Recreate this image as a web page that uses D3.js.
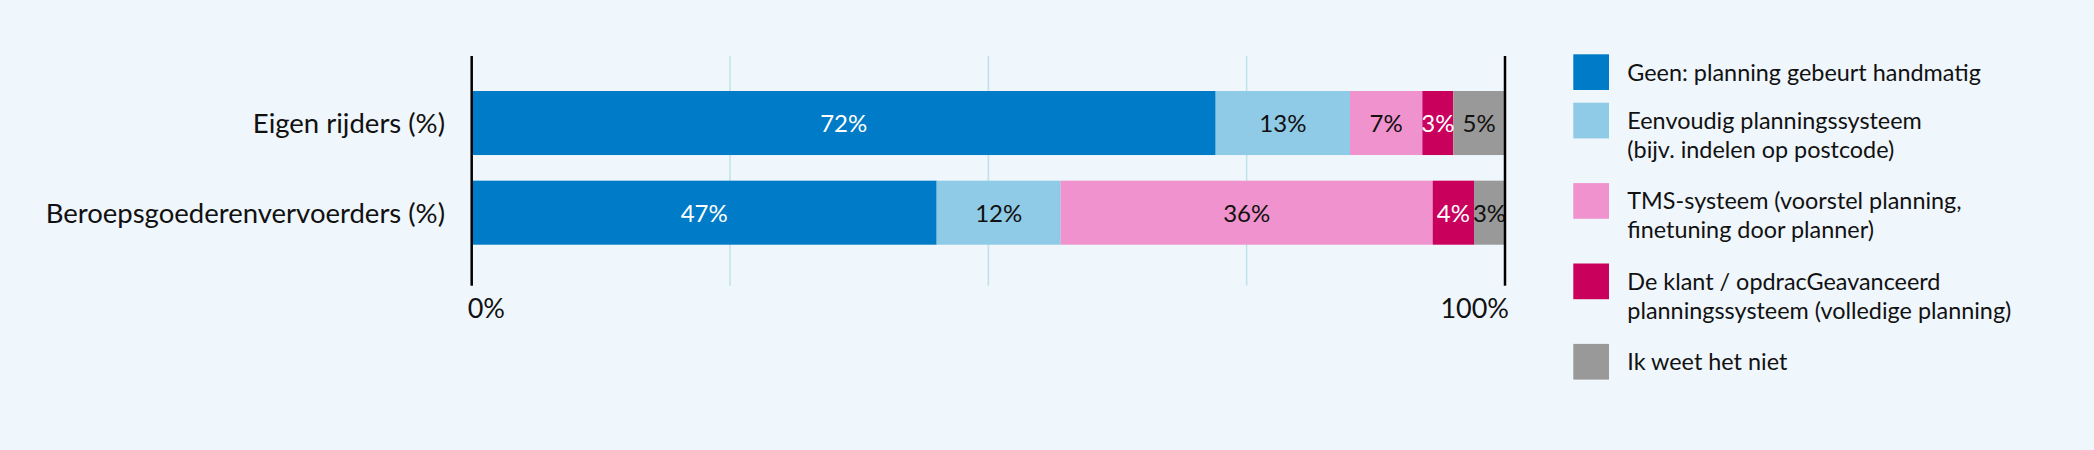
<!DOCTYPE html>
<html>
<head>
<meta charset="utf-8">
<script src="https://cdn.jsdelivr.net/npm/d3@7"></script>
<style>
  html, body { margin: 0; padding: 0; background: #eff6fc; }
  svg { display: block; font-family: Lato, 'Noto Sans', sans-serif; }
</style>
</head>
<body>
<div id="container"></div>
<script>
//### DATA ###
const categories = [ 'Eigen rijders (%)', 'Beroepsgoederenvervoerders (%)' ];
const seriesNames = [
  [ 'Geen: planning gebeurt handmatig' ],
  [ 'Eenvoudig planningssysteem', '(bijv. indelen op postcode)' ],
  [ 'TMS-systeem (voorstel planning,', 'finetuning door planner)' ],
  [ 'De klant / opdracGeavanceerd', 'planningssysteem (volledige planning)' ],
  [ 'Ik weet het niet' ]
];
//>>> Segment widths as drawn (percent of the bar):
const eigenValues = [ 72, 13, 7, 3, 5 ];
const beroepsValues = [ 45, 12, 36, 4, 3 ];
//>>> Labels as printed in the segments:
const eigenLabels = [ '72%', '13%', '7%', '3%', '5%' ];
const beroepsLabels = [ '47%', '12%', '36%', '4%', '3%' ];
const gridTicks = [ 25, 50, 75 ];
const axisTicks = [ 0, 100 ];

//### CHART ###
const colors = [ '#007bc7', '#8fcae7', '#f092cd', '#ca005d', '#999999' ];
const textColors = [ '#ffffff', '#111111', '#111111', '#ffffff', '#111111' ];

const W = 2094, H = 450;
const margin = { top: 91, left: 471.7 };
const width = 1033.3;
const plotTop = 56, plotBottom = 285.7;

const svg = d3.select( '#container' ).append( 'svg' )
  .attr( 'width', W )
  .attr( 'height', H );

svg.append( 'rect' ).attr( 'width', W ).attr( 'height', H ).attr( 'fill', '#eff6fc' );

const xScale = d3.scaleLinear().domain( [ 0, 100 ] ).range( [ margin.left, margin.left + width ] );
const yScale = d3.scaleBand()
  .domain( categories )
  .range( [ 91, 244.7 ] )
  .paddingInner( 0.286 )
  .paddingOuter( 0 );

//_____ GRID LINES _____
svg.append( 'g' ).selectAll( 'line' )
  .data( gridTicks )
  .enter().append( 'line' )
  .attr( 'x1', d => xScale( d ) )
  .attr( 'x2', d => xScale( d ) )
  .attr( 'y1', plotTop )
  .attr( 'y2', plotBottom )
  .attr( 'stroke', '#c0e2e8' )
  .attr( 'stroke-width', 1.5 );

//_____ BARS _____
const rows = [
  { cat: categories[ 0 ], values: eigenValues, labels: eigenLabels },
  { cat: categories[ 1 ], values: beroepsValues, labels: beroepsLabels }
];

rows.forEach( row => {
  let acc = 0;
  const segs = row.values.map( ( v, i ) => {
    const s = { start: acc, end: acc + v, i: i, label: row.labels[ i ] };
    acc += v;
    return s;
  } );
  const g = svg.append( 'g' );
  g.selectAll( 'rect' )
    .data( segs )
    .enter().append( 'rect' )
    .attr( 'x', d => xScale( d.start ) )
    .attr( 'y', yScale( row.cat ) )
    .attr( 'width', d => xScale( d.end ) - xScale( d.start ) )
    .attr( 'height', yScale.bandwidth() )
    .attr( 'fill', d => colors[ d.i ] );
  g.selectAll( 'text' )
    .data( segs )
    .enter().append( 'text' )
    .attr( 'x', d => ( xScale( d.start ) + xScale( d.end ) ) / 2 )
    .attr( 'y', yScale( row.cat ) + yScale.bandwidth() / 2 + 9 )
    .attr( 'text-anchor', 'middle' )
    .style( 'font-size', '24px' )
    .attr( 'fill', d => textColors[ d.i ] )
    .text( d => d.label );
} );

//_____ CATEGORY LABELS _____
svg.append( 'g' ).selectAll( 'text' )
  .data( categories )
  .enter().append( 'text' )
  .attr( 'x', 445 )
  .attr( 'y', d => yScale( d ) + yScale.bandwidth() / 2 + 10 )
  .attr( 'text-anchor', 'end' )
  .style( 'font-size', '27.5px' )
  .attr( 'fill', '#111' )
  .text( d => d );

//_____ AXIS LINES AND LABELS _____
svg.append( 'g' ).selectAll( 'line' )
  .data( axisTicks )
  .enter().append( 'line' )
  .attr( 'x1', d => xScale( d ) )
  .attr( 'x2', d => xScale( d ) )
  .attr( 'y1', plotTop )
  .attr( 'y2', plotBottom )
  .attr( 'stroke', '#000' )
  .attr( 'stroke-width', 2.5 );

svg.append( 'g' ).selectAll( 'text' )
  .data( axisTicks )
  .enter().append( 'text' )
  .attr( 'x', d => d === 0 ? xScale( d ) - 4 : xScale( d ) + 4 )
  .attr( 'y', 318 )
  .attr( 'text-anchor', d => d === 0 ? 'start' : 'end' )
  .style( 'font-size', '27px' )
  .attr( 'fill', '#111' )
  .text( d => d + '%' );

//_____ LEGEND _____
const legend = svg.append( 'g' ).attr( 'transform', 'translate( 1573.3, 54.3 )' );
let ly = 0;
seriesNames.forEach( ( lines, i ) => {
  const item = legend.append( 'g' ).attr( 'transform', `translate( 0, ${ly} )` );
  item.append( 'rect' )
    .attr( 'width', 35.7 )
    .attr( 'height', 35.7 )
    .attr( 'fill', colors[ i ] );
  const t = item.append( 'text' )
    .attr( 'x', 54 )
    .attr( 'y', 26.4 )
    .style( 'font-size', '23.4px' )
    .attr( 'fill', '#111' );
  lines.forEach( ( line, j ) => {
    t.append( 'tspan' )
      .attr( 'x', 54 )
      .attr( 'dy', j === 0 ? 0 : 29 )
      .text( line );
  } );
  ly += 48.4 + ( lines.length - 1 ) * 32;
} );
</script>
</body>
</html>
